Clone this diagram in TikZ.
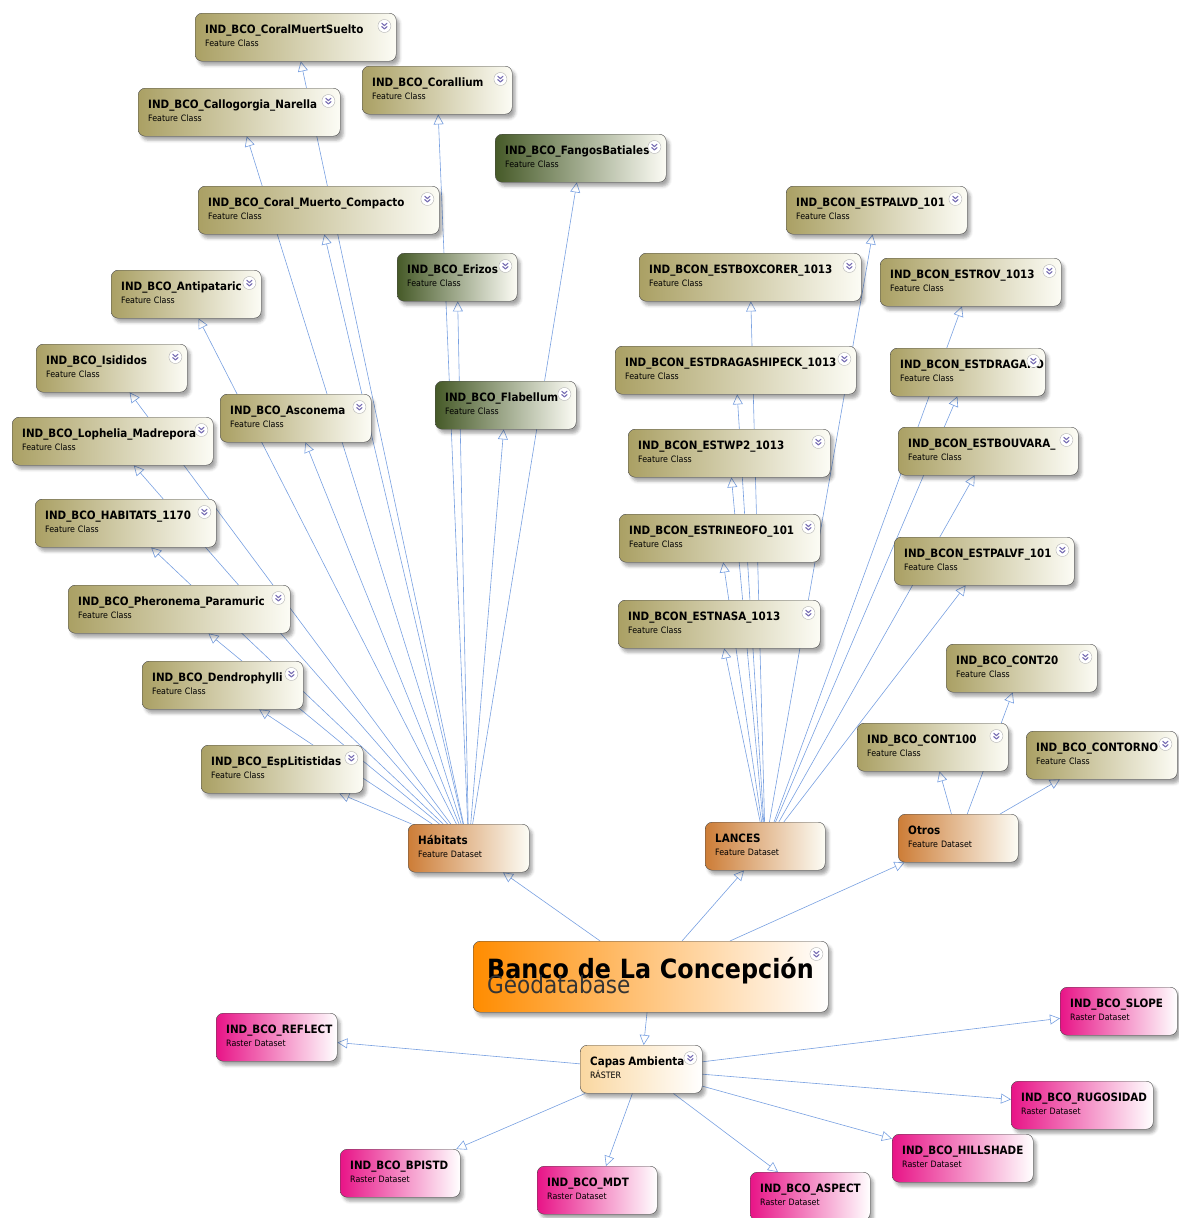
\documentclass[tikz,border=0pt]{standalone}
\usepackage{fontspec}
\setmainfont{DejaVu Sans Condensed}
\usetikzlibrary{arrows.meta,shadows.blur,backgrounds,calc}

\definecolor{olivel}{RGB}{170,160,100}
\definecolor{oliver}{RGB}{252,252,245}
\definecolor{greenl}{RGB}{70,90,40}
\definecolor{orangel}{RGB}{205,125,55}
\definecolor{geol}{RGB}{255,140,0}
\definecolor{pinkl}{RGB}{232,20,135}
\definecolor{peachl}{RGB}{250,215,160}
\definecolor{linkblue}{RGB}{120,160,225}
\definecolor{boxline}{RGB}{70,70,70}
\definecolor{chevc}{RGB}{120,110,180}

\newcommand\ttl[1]{{\fontsize{11.5}{13}\selectfont\bfseries #1}}
\newcommand\subf{\fontsize{8.8}{13}\selectfont}

\tikzset{
  basic/.style  = {draw=boxline, thin, rectangle, rounded corners=7pt,
                   anchor=north west, align=left, inner xsep=10pt, inner ysep=5pt,
                   text height=15pt, text depth=23pt, font=\subf,
                   blur shadow={shadow xshift=3pt, shadow yshift=-4pt,
                                shadow opacity=35, shadow blur radius=3pt}},
  fclass/.style = {basic, text width=#1, left color=olivel, right color=oliver},
  fdark/.style  = {basic, text width=#1, left color=greenl, right color=oliver},
  fdata/.style  = {basic, text width=#1, left color=orangel, right color=oliver},
  raster/.style = {basic, text width=#1, left color=pinkl, right color=white},
  capas/.style  = {basic, text width=#1, left color=peachl, right color=white},
  geo/.style    = {basic, text width=327pt, inner xsep=14pt, text height=32pt,
                   text depth=29pt, left color=geol, right color=white,
                   font=\fontsize{26.5}{30}\selectfont\bfseries},
  geosub/.style = {anchor=base west, inner sep=0pt, text=black!80,
                   font=\fontsize{24}{24}\selectfont},
  link/.style   = {draw=linkblue, line width=0.6pt,
                   -{Triangle[open, length=10pt, width=10pt]}},
  chev/.pic     = {
    \draw[draw=black!30, fill=white] (0,0) circle (6.5pt);
    \draw[chevc, line width=1.1pt, line cap=round, line join=round]
      (-2.6,-2.8) -- (0,-0.4) -- (2.6,-2.8) (-2.6,0.6) -- (0,3) -- (2.6,0.6);
  }
}

\begin{document}
\begin{tikzpicture}[x=1pt, y=-1pt]
\useasboundingbox (0,0) rectangle (1178,1218);

% feature classes of Habitats
\node[fclass=181pt] (cms) at (195,13)  {\ttl{IND\_BCO\_CoralMuertSuelto}\\Feature Class};
\node[fclass=130pt] (cor) at (362,66)  {\ttl{IND\_BCO\_Corallium}\\Feature Class};
\node[fclass=182pt] (cal) at (138,88)  {\ttl{IND\_BCO\_Callogorgia\_Narella}\\Feature Class};
\node[fdark=151pt]  (fan) at (495,134) {\ttl{IND\_BCO\_FangosBatiales}\\Feature Class};
\node[fclass=221pt] (cmc) at (198,186) {\ttl{IND\_BCO\_Coral\_Muerto\_Compacto}\\Feature Class};
\node[fdark=100pt]  (eri) at (397,253) {\ttl{IND\_BCO\_Erizos}\\Feature Class};
\node[fclass=130pt] (ant) at (111,270) {\ttl{IND\_BCO\_Antipataric}\\Feature Class};
\node[fclass=131pt] (isi) at (36,344)  {\ttl{IND\_BCO\_Isididos}\\Feature Class};
\node[fclass=131pt] (asc) at (220,394) {\ttl{IND\_BCO\_Asconema}\\Feature Class};
\node[fdark=121pt]  (fla) at (435,381) {\ttl{IND\_BCO\_Flabellum}\\Feature Class};
\node[fclass=181pt] (lop) at (12,417)  {\ttl{IND\_BCO\_Lophelia\_Madrepora}\\Feature Class};
\node[fclass=161pt] (hcl) at (35,499)  {\ttl{IND\_BCO\_HABITATS\_1170}\\Feature Class};
\node[fclass=202pt] (phe) at (68,585)  {\ttl{IND\_BCO\_Pheronema\_Paramuric}\\Feature Class};
\node[fclass=141pt] (den) at (142,661) {\ttl{IND\_BCO\_Dendrophylli}\\Feature Class};
\node[fclass=142pt] (esp) at (201,745) {\ttl{IND\_BCO\_EspLitistidas}\\Feature Class};

% feature classes of LANCES
\node[fclass=161pt] (pvd) at (786,186) {\ttl{IND\_BCON\_ESTPALVD\_101}\\Feature Class};
\node[fclass=202pt] (box) at (639,253) {\ttl{IND\_BCON\_ESTBOXCORER\_1013}\\Feature Class};
\node[fclass=161pt] (rov) at (880,258) {\ttl{IND\_BCON\_ESTROV\_1013}\\Feature Class};
\node[fclass=221pt] (dsh) at (615,346) {\ttl{IND\_BCON\_ESTDRAGASHIPECK\_1013}\\Feature Class};
\node[fclass=135pt] (drc) at (890,348) {\ttl{IND\_BCON\_ESTDRAGARO}\\Feature Class};
\node[fclass=182pt] (wp2) at (628,429) {\ttl{IND\_BCON\_ESTWP2\_1013}\\Feature Class};
\node[fclass=160pt] (bou) at (898,427) {\ttl{IND\_BCON\_ESTBOUVARA\_}\\Feature Class};
\node[fclass=181pt] (rin) at (619,514) {\ttl{IND\_BCON\_ESTRINEOFO\_101}\\Feature Class};
\node[fclass=160pt] (pvf) at (894,537) {\ttl{IND\_BCON\_ESTPALVF\_101}\\Feature Class};
\node[fclass=182pt] (nas) at (618,600) {\ttl{IND\_BCON\_ESTNASA\_1013}\\Feature Class};

% feature classes of Otros
\node[fclass=131pt] (c20)  at (946,644)  {\ttl{IND\_BCO\_CONT20}\\Feature Class};
\node[fclass=131pt] (c100) at (857,723)  {\ttl{IND\_BCO\_CONT100}\\Feature Class};
\node[fclass=131pt] (cto)  at (1026,731) {\ttl{IND\_BCO\_CONTORNO}\\Feature Class};

% feature datasets
\node[fdata=101pt] (hab) at (408,824) {\ttl{Hábitats}\\Feature Dataset};
\node[fdata=100pt] (lan) at (705,822) {\ttl{LANCES}\\Feature Dataset};
\node[fdata=100pt] (otr) at (898,814) {\ttl{Otros}\\Feature Dataset};

% the geodatabase
\node[geo] (geo) at (473,941) {Banco de La Concepción};
\node[geosub] (geosub) at ($(geo.north west)+(14,52)$) {Geodatabase};

% rasters
\node[capas=102pt]  (cap) at (580,1045) {\ttl{Capas Ambienta}\\RÁSTER};
\node[raster=101pt] (ref) at (216,1013) {\ttl{IND\_BCO\_REFLECT}\\Raster Dataset};
\node[raster=97pt]  (slo) at (1060,987) {\ttl{IND\_BCO\_SLOPE}\\Raster Dataset};
\node[raster=122pt] (rug) at (1011,1081) {\ttl{IND\_BCO\_RUGOSIDAD}\\Raster Dataset};
\node[raster=121pt] (hil) at (892,1134) {\ttl{IND\_BCO\_HILLSHADE}\\Raster Dataset};
\node[raster=100pt] (bpi) at (340,1149) {\ttl{IND\_BCO\_BPISTD}\\Raster Dataset};
\node[raster=100pt] (mdt) at (537,1166) {\ttl{IND\_BCO\_MDT}\\Raster Dataset};
\node[raster=100pt] (asp) at (750,1172) {\ttl{IND\_BCO\_ASPECT}\\Raster Dataset};

% expand icons
\foreach \n in {cms,cor,cal,fan,cmc,eri,ant,isi,asc,fla,lop,hcl,phe,den,esp,
                pvd,box,rov,dsh,drc,wp2,bou,rin,pvf,nas,c20,c100,cto,geo,cap}
  \pic at ($(\n.north east)+(-12,13)$) {chev};

% links, behind the boxes
\begin{scope}[on background layer]
\foreach \n in {cms,cor,cal,fan,cmc,eri,ant,isi,asc,fla,lop,hcl,phe,den,esp}
  \draw[link] (hab) -- (\n);
\foreach \n in {pvd,box,rov,dsh,drc,wp2,bou,rin,pvf,nas}
  \draw[link] (lan) -- (\n);
\foreach \n in {c20,c100,cto}
  \draw[link] (otr) -- (\n);
\foreach \n in {hab,lan,otr,cap}
  \draw[link] (geo) -- (\n);
\foreach \n in {ref,slo,rug,hil,bpi,mdt,asp}
  \draw[link] (cap) -- (\n);
\end{scope}
\end{tikzpicture}
\end{document}
